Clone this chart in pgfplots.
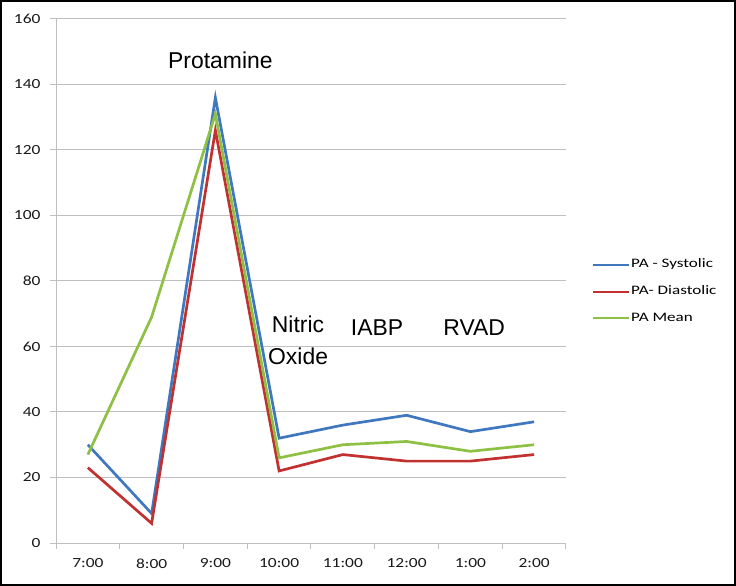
\documentclass[border=0pt]{standalone}
\usepackage{pgfplots}
\pgfplotsset{compat=1.18}
\usepackage{fontspec}
\setmainfont{Carlito}
\newfontfamily\tickfont[FakeStretch=1.25]{Carlito}
\newfontfamily\legfont[FakeStretch=1.32]{Carlito}
\newfontfamily\arial{Liberation Sans}
\definecolor{sysblue}{HTML}{3F78BF}
\definecolor{diared}{HTML}{C0312F}
\definecolor{meangreen}{HTML}{8DC043}
\definecolor{gridgray}{HTML}{BFBFBF}
\begin{document}
\begin{tikzpicture}
\useasboundingbox (-56bp,-43bp) rectangle (680bp,543bp);
\begin{axis}[
  scale only axis,
  width=510bp, height=524bp,
  at={(0,0)}, anchor=south west,
  xmin=-0.5, xmax=7.5, ymin=0, ymax=160,
  xtick={0,...,7},
  xticklabels={7:00,8:00,9:00,10:00,11:00,12:00,1:00,2:00},
  minor xtick={-0.5,0.5,...,7.5},
  ytick={0,20,...,160},
  axis x line*=bottom, axis y line*=left,
  axis line style={gridgray, line width=1bp},
  ymajorgrids, major grid style={gridgray, line width=1bp},
  tick style={gridgray, line width=1bp},
  major x tick style={draw=none},
  major tick length=6bp, minor tick length=6bp,
  tick align=outside,
  tick label style={font=\tickfont\fontsize{14}{16}\selectfont, text=black!90},
  /pgf/number format/assume math mode=true,
  yticklabel style={xshift=-6bp},
  xticklabel style={yshift=-6bp},
  legend style={at={(rel axis cs:1.051,0.4796)}, anchor=west, draw=none, fill=none,
    font=\legfont\fontsize{13}{15}\selectfont, row sep=14.7bp, inner sep=0pt,
    nodes={inner sep=0pt, inner xsep=1bp, text height=9bp, text depth=3bp}},
  legend cell align=left,
  legend image code/.code={\draw[#1, line width=2bp] (0bp,0bp) -- (36bp,0bp);},
  every axis plot/.append style={line width=2.7bp, line join=miter},
]
\addplot[sysblue, mark=none] coordinates {(0,30) (1,9) (2,136) (3,32) (4,36) (5,39) (6,34) (7,37)};
\addlegendentry{PA - Systolic}
\addplot[diared, mark=none] coordinates {(0,23) (1,6) (2,126) (3,22) (4,27) (5,25) (6,25) (7,27)};
\addlegendentry{PA- Diastolic}
\addplot[meangreen, mark=none] coordinates {(0,27) (1,69) (2,131) (3,26) (4,30) (5,31) (6,28) (7,30)};
\addlegendentry{PA Mean}
\node[font=\arial\fontsize{23}{25}\selectfont, anchor=base west, inner sep=0pt] at (axis cs:1.257,144.9) {Protamine};
\node[font=\arial\fontsize{23}{25}\selectfont, anchor=base west, inner sep=0pt] at (axis cs:2.884,64.2) {Nitric};
\node[font=\arial\fontsize{23}{25}\selectfont, anchor=base west, inner sep=0pt] at (axis cs:2.825,54.5) {Oxide};
\node[font=\arial\fontsize{23}{25}\selectfont, anchor=base west, inner sep=0pt] at (axis cs:4.123,63.3) {IABP};
\node[font=\arial\fontsize{23}{25}\selectfont, anchor=base west, inner sep=0pt] at (axis cs:5.575,63.3) {RVAD};
\end{axis}
\draw[black, line width=2bp] (-55bp,-42bp) rectangle (679bp,542bp);
\end{tikzpicture}
\end{document}
